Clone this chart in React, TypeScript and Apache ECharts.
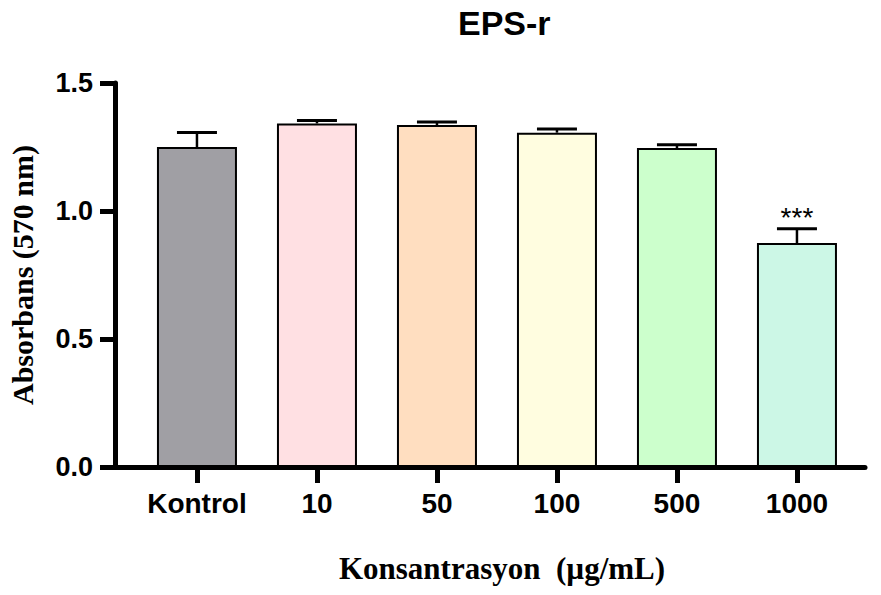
import React, { useEffect, useRef } from "react";
import * as echarts from "echarts";

const categories = ["Kontrol", "10", "50", "100", "500", "1000"];
const means = [1.25, 1.342, 1.336, 1.306, 1.246, 0.875];
const errors = [0.057, 0.012, 0.012, 0.014, 0.013, 0.056];
const significance = ["", "", "", "", "", "***"];
const barColors = ["#A09FA4", "#FFE0E3", "#FFDEC0", "#FFFDE0", "#CCFFCC", "#CCF7E6"];
const yTicks = [0, 0.5, 1.0, 1.5];

export default function App() {
  const ref = useRef<HTMLDivElement>(null);
  useEffect(() => {
    if (!ref.current) return;
    const chart = echarts.init(ref.current, null, { renderer: "svg" });
    const positions = categories.map((_, i) => i);
    chart.setOption({
      animation: false,
      backgroundColor: "#fff",
      title: {
        text: "EPS-r",
        left: 453,
        top: 1,
        textStyle: { fontFamily: "Liberation Sans", fontWeight: "bold", fontSize: 34, color: "#000" },
      },
      grid: { left: 115, right: 16, top: 83, bottom: 128, containLabel: false, outerBoundsMode: "none" },
      xAxis: {
        type: "value",
        min: -0.683,
        max: 5.567,
        splitLine: { show: false },
        axisLine: { show: true, onZero: false, lineStyle: { color: "#000", width: 5 } },
        axisTick: { show: true, customValues: positions, length: 16, lineStyle: { color: "#000", width: 5 } },
        axisLabel: {
          customValues: positions,
          margin: 22,
          formatter: (v: number) => categories[Math.round(v)] ?? "",
          fontFamily: "Liberation Sans",
          fontWeight: "bold",
          fontSize: 28,
          color: "#000",
        },
        name: "Konsantrasyon  (µg/mL)",
        nameLocation: "middle",
        nameGap: 86,
        nameTextStyle: {
          fontFamily: "Liberation Serif",
          fontWeight: "bold",
          fontSize: 31,
          color: "#000",
          padding: [0, 0, 0, 24],
        },
      },
      yAxis: {
        type: "value",
        min: 0,
        max: 1.5,
        interval: 0.5,
        splitLine: { show: false },
        axisLine: { show: true, onZero: false, lineStyle: { color: "#000", width: 5 } },
        axisTick: { show: true, length: 15, lineStyle: { color: "#000", width: 5 } },
        axisLabel: {
          margin: 22,
          formatter: (v: number) => (yTicks.includes(v) ? v.toFixed(1) : ""),
          fontFamily: "Liberation Sans",
          fontWeight: "bold",
          fontSize: 27,
          color: "#000",
        },
        name: "Absorbans (570 nm)",
        nameLocation: "middle",
        nameRotate: 90,
        nameGap: 78,
        nameTextStyle: { fontFamily: "Liberation Serif", fontWeight: "bold", fontSize: 30, color: "#000" },
      },
      series: [
        {
          type: "bar",
          barWidth: 80,
          data: means.map((m, i) => ({
            value: [i, m],
            itemStyle: { color: barColors[i], borderColor: "#000", borderWidth: 2 },
          })),
          z: 2,
        },
        {
          type: "custom",
          z: 3,
          data: means.map((m, i) => [i, m, errors[i]]),
          renderItem: (params: any, api: any) => {
            const x = api.value(0);
            const y = api.value(1);
            const e = api.value(2);
            const base = api.coord([x, y]);
            const top = api.coord([x, y + e]);
            const half = 20;
            const children: any[] = [
              { type: "line", shape: { x1: base[0], y1: base[1], x2: top[0], y2: top[1] }, style: { stroke: "#000", lineWidth: 2.5 } },
              { type: "line", shape: { x1: top[0] - half, y1: top[1], x2: top[0] + half, y2: top[1] }, style: { stroke: "#000", lineWidth: 3 } },
            ];
            const sig = significance[params.dataIndex];
            if (sig) {
              children.push({
                type: "text",
                style: {
                  text: sig,
                  x: top[0],
                  y: top[1] - 25,
                  align: "center",
                  verticalAlign: "top",
                  fontFamily: "Liberation Sans",
                  fontSize: 28,
                  fill: "#000",
                },
              });
            }
            return { type: "group", children };
          },
        },
      ],
    });
    return () => chart.dispose();
  }, []);
  return <div ref={ref} style={{ position: "fixed", left: 0, top: 0, width: 881, height: 595 }} />;
}
